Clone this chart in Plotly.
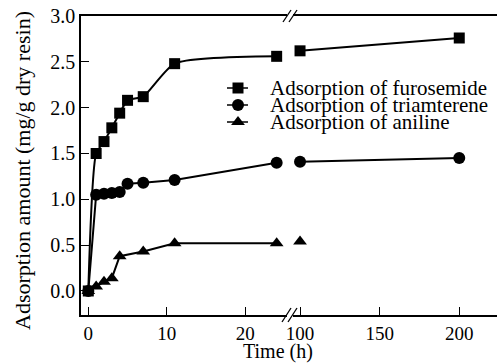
import plotly.graph_objects as go

# ---------------- data ----------------
time_early = [0, 1, 2, 3, 4, 5, 7, 11, 24]
time_late = [100, 200]

furosemide_early = [0.0, 1.50, 1.63, 1.78, 1.94, 2.08, 2.12, 2.48, 2.56]
furosemide_late = [2.62, 2.76]

triamterene_early = [0.0, 1.05, 1.06, 1.07, 1.08, 1.17, 1.18, 1.21, 1.40]
triamterene_late = [1.41, 1.45]

aniline_time_early = [0, 1, 2, 3, 4, 7, 11, 24]
aniline_early = [0.0, 0.05, 0.10, 0.14, 0.38, 0.43, 0.52, 0.52]
aniline_time_late = [100]
aniline_late = [0.54]

series_names = ["Adsorption of furosemide", "Adsorption of triamterene", "Adsorption of aniline"]
series_symbols = ["square", "circle", "triangle-up"]

y_ticks = [0.0, 0.5, 1.0, 1.5, 2.0, 2.5, 3.0]
x_ticks_early = [0, 10, 20]
x_ticks_late = [100, 150, 200]

# ---------------- layout geometry (pixels) ----------------
W, H = 497, 363
L, R, T, B = 81, 497, 16, 315
SPLIT = 290
FONT = "Liberation Serif"


def px2x(px):
    return (px - L) / (R - L)


def px2y(py):
    return (B - py) / (B - T)


fig = go.Figure()

line_style = dict(color="black", width=2)
msize = {"square": 11, "circle": 12, "triangle-up": 12}

# furosemide
fig.add_trace(go.Scatter(x=time_early, y=furosemide_early, mode="lines+markers",
                         line=dict(color="black", width=2, shape="spline", smoothing=0.6),
                         marker=dict(symbol="square", size=msize["square"], color="black"),
                         xaxis="x", yaxis="y", showlegend=False))
fig.add_trace(go.Scatter(x=time_late, y=furosemide_late, mode="lines+markers",
                         line=line_style,
                         marker=dict(symbol="square", size=msize["square"], color="black"),
                         xaxis="x2", yaxis="y", showlegend=False))
# triamterene
fig.add_trace(go.Scatter(x=time_early, y=triamterene_early, mode="lines+markers",
                         line=line_style,
                         marker=dict(symbol="circle", size=msize["circle"], color="black"),
                         xaxis="x", yaxis="y", showlegend=False))
fig.add_trace(go.Scatter(x=time_late, y=triamterene_late, mode="lines+markers",
                         line=line_style,
                         marker=dict(symbol="circle", size=msize["circle"], color="black"),
                         xaxis="x2", yaxis="y", showlegend=False))
# aniline
fig.add_trace(go.Scatter(x=aniline_time_early, y=aniline_early, mode="lines+markers",
                         line=line_style,
                         marker=dict(symbol="triangle-up", size=msize["triangle-up"], color="black"),
                         xaxis="x", yaxis="y", showlegend=False))
fig.add_trace(go.Scatter(x=aniline_time_late, y=aniline_late, mode="markers",
                         marker=dict(symbol="triangle-up", size=msize["triangle-up"], color="black"),
                         xaxis="x2", yaxis="y", showlegend=False))

# ---------------- hand-made legend (pixel overlay axes) ----------------
legend_rows = [88, 105, 122]
gl_x0, gl_x1, gl_mx, txt_x = 227, 248, 238, 268
for row, sym in zip(legend_rows, series_symbols):
    fig.add_trace(go.Scatter(x=[gl_x0, gl_x1], y=[row, row], mode="lines",
                             line=dict(color="black", width=1.5),
                             xaxis="x3", yaxis="y3", showlegend=False, hoverinfo="skip"))
    fig.add_trace(go.Scatter(x=[gl_mx], y=[row], mode="markers",
                             marker=dict(symbol=sym, size=msize[sym], color="black"),
                             xaxis="x3", yaxis="y3", showlegend=False, hoverinfo="skip"))

annotations = []
for row, name in zip(legend_rows, series_names):
    annotations.append(dict(x=px2x(txt_x), y=px2y(row), xref="paper", yref="paper",
                            text=name, showarrow=False, xanchor="left", yanchor="middle",
                            font=dict(family=FONT, size=21, color="black")))

annotations.append(dict(x=px2x(278), y=px2y(351), xref="paper", yref="paper",
                        text="Time (h)", showarrow=False, xanchor="center", yanchor="middle",
                        font=dict(family=FONT, size=20, color="black")))
annotations.append(dict(x=px2x(22), y=px2y(171), xref="paper", yref="paper",
                        text="Adsorption amount (mg/g dry resin)", showarrow=False,
                        textangle=-90, xanchor="center", yanchor="middle",
                        font=dict(family=FONT, size=22, color="black")))

# ---------------- axis break marks ----------------
shapes = []
for yc in (T, B):
    shapes.append(dict(type="rect", xref="paper", yref="paper",
                       x0=px2x(287), x1=px2x(293), y0=px2y(yc + 2), y1=px2y(yc - 2),
                       fillcolor="white", line=dict(width=0), layer="above"))
for dx in (0, 6):
    shapes.append(dict(type="line", xref="paper", yref="paper",
                       x0=px2x(283 + dx), y0=px2y(22), x1=px2x(291 + dx), y1=px2y(10),
                       line=dict(color="black", width=1.3), layer="above"))
    shapes.append(dict(type="line", xref="paper", yref="paper",
                       x0=px2x(282 + dx), y0=px2y(322), x1=px2x(291 + dx), y1=px2y(308),
                       line=dict(color="black", width=1.3), layer="above"))

axis_common = dict(showline=True, linecolor="black", linewidth=1.5, ticks="inside",
                   ticklen=8, tickwidth=1.2, tickcolor="black", showgrid=False,
                   zeroline=False, tickfont=dict(family=FONT, size=20, color="black"))
xtick_font = dict(family=FONT, size=19, color="black")

split = px2x(SPLIT)
fig.update_layout(
    width=W, height=H,
    margin=dict(l=L, r=W - R, t=T, b=H - B),
    paper_bgcolor="white", plot_bgcolor="rgba(0,0,0,0)",
    xaxis=dict(domain=[0, split], range=[-0.93, 25.7], tickvals=x_ticks_early,
               mirror=True, anchor="y", **{**axis_common, "tickfont": xtick_font}),
    xaxis2=dict(domain=[split, 1], range=[93.7, 223.7], tickvals=x_ticks_late,
                mirror=True, anchor="y", **{**axis_common, "tickfont": xtick_font}),
    yaxis=dict(range=[-0.262, 3.0], tickvals=y_ticks, tickformat=".1f",
               anchor="x", **axis_common),
    xaxis3=dict(domain=[0, 1], range=[L, R], visible=False, anchor="y3"),
    yaxis3=dict(domain=[0, 1], range=[B, T], visible=False, anchor="x3"),
    annotations=annotations,
    shapes=shapes,
)

fig.write_html("out.html", config={"displayModeBar": False},
               post_script="document.body.style.margin='0';document.body.style.padding='0';")
